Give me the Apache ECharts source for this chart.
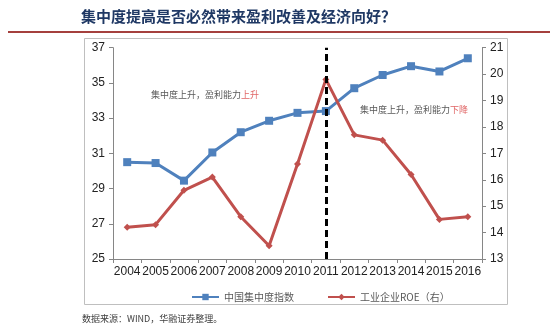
<!DOCTYPE html>
<html><head><meta charset="utf-8">
<script src="https://cdn.jsdelivr.net/npm/echarts@6/dist/echarts.min.js"></script>
<style>html,body{margin:0;padding:0;background:#fff}#c{width:550px;height:332px}</style>
</head><body><div id="c"></div>
<script>
const years = ['2004','2005','2006','2007','2008','2009','2010','2011','2012','2013','2014','2015','2016'];
const concentration = [30.5, 30.45, 29.45, 31.05, 32.2, 32.85, 33.3, 33.4, 34.7, 35.45, 35.95, 35.65, 36.4];
const roe = [14.2, 14.3, 15.6, 16.1, 14.6, 13.5, 16.6, 19.8, 17.7, 17.5, 16.2, 14.5, 14.6];
const leftTicks = [25, 37, 2];
const rightTicks = [13, 21, 1];
const markYear = '2011';
const title = '集中度提高是否必然带来盈利改善及经济向好？';
const source = '数据来源：WIND，华融证券整理。';
const seriesNames = ['中国集中度指数', '工业企业ROE（右）'];

const chart = echarts.init(document.getElementById('c'));
const cjk = '"Noto Sans CJK SC", sans-serif';
const axisCommon = {
  axisLine: {show: true, lineStyle: {color: '#868686', width: 1}},
  axisTick: {show: true, lineStyle: {color: '#868686'}, length: 4},
  splitLine: {show: false},
  axisLabel: {color: '#222', fontSize: 12, fontFamily: '"Liberation Sans", Arial, sans-serif'}
};
chart.setOption({
  animation: false,
  grid: {left: 113, right: 68, top: 47.7, bottom: 73},
  graphic: [
    {type: 'text', left: 81, top: 9, style: {text: title, fontSize: 15, fontWeight: 'bold', fill: '#1f3864', fontFamily: cjk}},
    {type: 'rect', shape: {x: 8, y: 31, width: 542, height: 2}, style: {fill: '#a5403d'}},
    {type: 'rect', shape: {x: 84.5, y: 38.5, width: 423, height: 266}, style: {fill: 'none', stroke: '#bfbfbf', lineWidth: 1}, z: -1},
    {type: 'text', left: 151, top: 90, style: {text: '{g|集中度上升，盈利能力}{r|上升}', rich: {g: {fill: '#595959', fontSize: 9, fontFamily: cjk}, r: {fill: '#e06666', fontSize: 9, fontFamily: cjk}}}},
    {type: 'text', left: 360, top: 105, style: {text: '{g|集中度上升，盈利能力}{r|下降}', rich: {g: {fill: '#595959', fontSize: 9, fontFamily: cjk}, r: {fill: '#e06666', fontSize: 9, fontFamily: cjk}}}},
    {type: 'text', left: 82, top: 314, style: {text: source, fontSize: 9, fill: '#404040', fontFamily: cjk}}
  ],
  legend: {
    left: 186, top: 287, itemWidth: 27, itemHeight: 8, itemGap: 33,
    textStyle: {fontSize: 10, color: '#595959', fontFamily: cjk},
    data: seriesNames
  },
  xAxis: Object.assign({type: 'category', data: years, boundaryGap: true}, axisCommon, {
    axisTick: {show: true, interval: 0, alignWithLabel: false, lineStyle: {color: '#868686'}, length: 4},
    axisLabel: {interval: 0, color: '#222', fontSize: 12, margin: 7, fontFamily: '"Liberation Sans", Arial, sans-serif'}
  }),
  yAxis: [
    Object.assign({type: 'value', min: leftTicks[0], max: leftTicks[1], interval: leftTicks[2], position: 'left'}, axisCommon),
    Object.assign({type: 'value', min: rightTicks[0], max: rightTicks[1], interval: rightTicks[2], position: 'right'}, axisCommon)
  ],
  series: [
    {name: seriesNames[0], type: 'line', yAxisIndex: 0, data: concentration, symbol: 'rect', symbolSize: 8,
     lineStyle: {color: '#4f81bd', width: 3}, itemStyle: {color: '#4f81bd'},
     markLine: {silent: true, symbol: 'none', label: {show: false},
       lineStyle: {color: '#000', width: 3, type: [7, 4]},
       data: [{xAxis: markYear}]}},
    {name: seriesNames[1], type: 'line', yAxisIndex: 1, data: roe, symbol: 'diamond', symbolSize: 7,
     lineStyle: {color: '#c0504d', width: 3}, itemStyle: {color: '#c0504d'}, z: 3}
  ]
});
</script></body></html>
